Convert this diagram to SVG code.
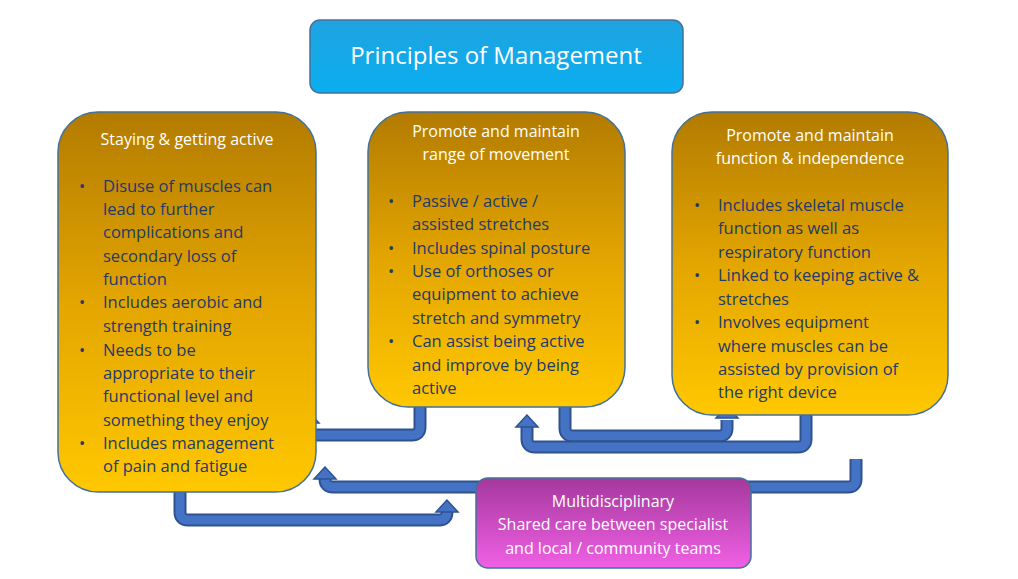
<svg xmlns="http://www.w3.org/2000/svg" width="1018" height="579" viewBox="0 0 1018 579">
<defs>
<linearGradient id="gT" x1="0" y1="0" x2="0" y2="1"><stop offset="0" stop-color="#1fa3e0"/><stop offset="1" stop-color="#0aaef0"/></linearGradient>
<linearGradient id="gY" x1="0" y1="0" x2="0" y2="1"><stop offset="0" stop-color="#b27b00"/><stop offset="0.5" stop-color="#e3a500"/><stop offset="1" stop-color="#ffc800"/></linearGradient>
<linearGradient id="gM" x1="0" y1="0" x2="0" y2="1"><stop offset="0" stop-color="#a5389d"/><stop offset="1" stop-color="#f060e4"/></linearGradient>
<marker id="ah" viewBox="0 0 10 10" refX="5" refY="6" markerWidth="3" markerHeight="3" orient="auto"><path d="M0,10 L5,0 L10,10 L7,10 L7,9 L3,9 L3,10 Z" fill="#4472c4" stroke="#2f528f" stroke-width="0.5"/></marker>
<style>
.box{stroke:#41719c;stroke-width:1.5}
.hd{font-family:"Open Sans","Liberation Sans",sans-serif;font-size:16px;fill:#fff;text-anchor:middle}
.bt{font-family:"Open Sans","Liberation Sans",sans-serif;font-size:16.5px;fill:#1f3a6b}
.o{fill:none;stroke:#2f528f;stroke-width:13;stroke-linejoin:round}
.i{fill:none;stroke:#4472c4;stroke-width:9;stroke-linejoin:round}
.tip{fill:#4472c4;stroke:#2f528f;stroke-width:1.5}
</style>
</defs>
<g id="connectors">
<path class="o" d="M420,405 V427 Q420,435 412,435 H316 Q308,435 308,427 V420"/>
<path class="i" d="M420,405 V427 Q420,435 412,435 H316 Q308,435 308,427 V420"/>
<polygon class="tip" points="308,411 297,423 319,423"/>
<path class="o" d="M565,405 V428 Q565,436 573,436 H719 Q727,436 727,428 V420"/>
<path class="i" d="M565,405 V428 Q565,436 573,436 H719 Q727,436 727,428 V420"/>
<polygon class="tip" points="727,406 716,418 738,418"/>
<path class="o" d="M806,413 V439 Q806,447 798,447 H535 Q527,447 527,439 V423"/>
<path class="i" d="M806,413 V439 Q806,447 798,447 H535 Q527,447 527,439 V423"/>
<polygon class="tip" points="527,415 516,427 538,427"/>
<path class="o" d="M856,459 V479 Q856,487 848,487 H333 Q325,487 325,479 V476"/>
<path class="i" d="M856,459 V479 Q856,487 848,487 H333 Q325,487 325,479 V476"/>
<polygon class="tip" points="325,467 314,479 336,479"/>
<path class="o" d="M180,490 V512 Q180,520 188,520 H439 Q447,520 447,512 V508"/>
<path class="i" d="M180,490 V512 Q180,520 188,520 H439 Q447,520 447,512 V508"/>
<polygon class="tip" points="447,500 436,512 458,512"/>
</g>
<g id="title"><rect class="box" x="310" y="20" width="373" height="73" rx="10" fill="url(#gT)"/><text x="496" y="64" class="hd" style="font-size:24px">Principles of Management</text></g>
<g id="active"><rect class="box" x="58" y="112" width="258" height="380" rx="40" fill="url(#gY)"/>
<text x="187" y="145" class="hd">Staying &amp; getting active</text>
<g class="bt">
<text x="79" y="192">•</text><text x="103" y="192">Disuse of muscles can</text><text x="103" y="215">lead to further</text><text x="103" y="238">complications and</text><text x="103" y="262">secondary loss of</text><text x="103" y="285">function</text>
<text x="79" y="308">•</text><text x="103" y="308">Includes aerobic and</text><text x="103" y="332">strength training</text>
<text x="79" y="356">•</text><text x="103" y="356">Needs to be</text><text x="103" y="379">appropriate to their</text><text x="103" y="402">functional level and</text><text x="103" y="426">something they enjoy</text>
<text x="79" y="449">•</text><text x="103" y="449">Includes management</text><text x="103" y="472">of pain and fatigue</text>
</g></g>
<g id="range"><rect class="box" x="368" y="112" width="257" height="295" rx="40" fill="url(#gY)"/>
<text x="496" y="137" class="hd">Promote and maintain</text><text x="496" y="160" class="hd">range of movement</text>
<g class="bt">
<text x="388" y="207">•</text><text x="412" y="207">Passive / active /</text><text x="412" y="230">assisted stretches</text>
<text x="388" y="254">•</text><text x="412" y="254">Includes spinal posture</text>
<text x="388" y="277">•</text><text x="412" y="277">Use of orthoses or</text><text x="412" y="300">equipment to achieve</text><text x="412" y="324">stretch and symmetry</text>
<text x="388" y="347">•</text><text x="412" y="347">Can assist being active</text><text x="412" y="371">and improve by being</text><text x="412" y="394">active</text>
</g></g>
<g id="function"><rect class="box" x="672" y="112" width="276" height="303" rx="40" fill="url(#gY)"/>
<text x="810" y="141" class="hd">Promote and maintain</text><text x="810" y="164" class="hd">function &amp; independence</text>
<g class="bt">
<text x="694" y="211">•</text><text x="718" y="211">Includes skeletal muscle</text><text x="718" y="234">function as well as</text><text x="718" y="258">respiratory function</text>
<text x="694" y="281">•</text><text x="718" y="281">Linked to keeping active &amp;</text><text x="718" y="305">stretches</text>
<text x="694" y="328">•</text><text x="718" y="328">Involves equipment</text><text x="718" y="352">where muscles can be</text><text x="718" y="375">assisted by provision of</text><text x="718" y="398">the right device</text>
</g></g>
<g id="multi"><rect class="box" x="476" y="478" width="275" height="90" rx="12" fill="url(#gM)"/>
<text x="613" y="507" class="hd">Multidisciplinary</text><text x="613" y="530" class="hd">Shared care between specialist</text><text x="613" y="554" class="hd">and local / community teams</text></g>
</svg>
